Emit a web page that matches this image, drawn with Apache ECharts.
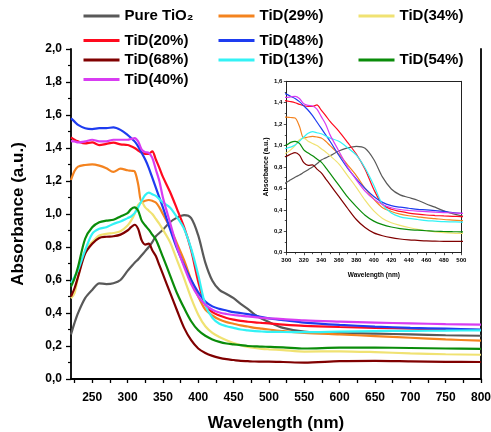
<!DOCTYPE html>
<html>
<head>
<meta charset="utf-8">
<script src="https://cdn.jsdelivr.net/npm/echarts@6/dist/echarts.min.js"></script>
<style>
html,body{margin:0;padding:0;background:#fff;}
#chart{width:491px;height:432px;}
</style>
</head>
<body>
<div id="chart"></div>
<script>
// Wavelength (nm) sample points shared by all spectra
const wavelength = [220,225,230,240,250,260,270,280,290,300,305,310,315,320,325,330,335,340,345,350,360,370,380,390,400,410,420,430,440,450,460,470,480,490,500,520,550,600,650,700,750,800];

const pureTiO2 = [0.27,0.34,0.40,0.49,0.54,0.58,0.575,0.58,0.60,0.655,0.68,0.705,0.725,0.75,0.775,0.80,0.83,0.865,0.885,0.905,0.95,0.978,0.993,0.975,0.87,0.705,0.595,0.54,0.515,0.49,0.455,0.425,0.39,0.365,0.345,0.31,0.287,0.278,0.275,0.27,0.265,0.262];
const tid29 = [1.206,1.26,1.287,1.297,1.301,1.293,1.277,1.255,1.275,1.265,1.262,1.258,1.18,1.07,1.08,1.085,1.08,1.07,1.04,1.00,0.92,0.82,0.72,0.60,0.50,0.42,0.385,0.36,0.345,0.335,0.325,0.318,0.31,0.305,0.30,0.29,0.28,0.27,0.26,0.25,0.24,0.232];
const tid34 = [0.49,0.52,0.62,0.78,0.83,0.87,0.88,0.885,0.895,0.93,0.96,1.00,1.055,1.07,1.04,1.02,1.00,0.97,0.94,0.905,0.83,0.72,0.61,0.49,0.39,0.32,0.28,0.255,0.235,0.218,0.205,0.195,0.188,0.183,0.18,0.175,0.166,0.168,0.163,0.155,0.15,0.147];
const tid20 = [1.465,1.45,1.44,1.428,1.434,1.418,1.425,1.432,1.422,1.418,1.41,1.40,1.385,1.372,1.365,1.365,1.38,1.33,1.28,1.225,1.135,1.03,0.92,0.78,0.59,0.45,0.405,0.385,0.37,0.36,0.352,0.347,0.343,0.34,0.337,0.33,0.322,0.315,0.31,0.305,0.30,0.297];
const tid48 = [1.58,1.56,1.54,1.52,1.515,1.52,1.52,1.525,1.51,1.48,1.46,1.44,1.41,1.37,1.33,1.28,1.22,1.16,1.10,1.04,0.91,0.79,0.69,0.60,0.525,0.47,0.44,0.425,0.415,0.405,0.40,0.393,0.385,0.375,0.367,0.357,0.342,0.328,0.318,0.31,0.305,0.30];
const tid68 = [0.50,0.55,0.62,0.76,0.82,0.855,0.862,0.865,0.875,0.90,0.92,0.935,0.91,0.84,0.815,0.82,0.78,0.745,0.69,0.635,0.525,0.415,0.31,0.235,0.185,0.158,0.14,0.128,0.12,0.115,0.11,0.108,0.106,0.105,0.105,0.103,0.099,0.108,0.11,0.107,0.104,0.103];
const tid13 = [0.58,0.62,0.66,0.78,0.88,0.91,0.92,0.94,0.955,0.975,0.985,1.005,1.04,1.08,1.115,1.13,1.12,1.11,1.09,1.07,1.04,0.98,0.91,0.79,0.63,0.45,0.37,0.335,0.32,0.31,0.30,0.295,0.29,0.288,0.286,0.285,0.284,0.287,0.29,0.292,0.293,0.295];
const tid54 = [0.56,0.61,0.68,0.85,0.92,0.95,0.96,0.965,0.985,1.005,1.03,1.04,1.02,0.96,0.93,0.905,0.875,0.845,0.795,0.74,0.63,0.52,0.43,0.35,0.295,0.262,0.24,0.225,0.215,0.21,0.205,0.20,0.198,0.196,0.195,0.192,0.185,0.19,0.19,0.188,0.185,0.183];
const tid40 = [1.442,1.44,1.434,1.44,1.45,1.44,1.44,1.45,1.45,1.45,1.455,1.46,1.44,1.39,1.375,1.37,1.34,1.27,1.20,1.10,0.95,0.80,0.68,0.575,0.50,0.45,0.42,0.403,0.394,0.388,0.384,0.379,0.375,0.371,0.368,0.363,0.355,0.348,0.342,0.337,0.333,0.33];

const seriesNames = ['Pure TiO₂','TiD(29%)','TiD(34%)','TiD(20%)','TiD(48%)','TiD(68%)','TiD(13%)','TiD(54%)','TiD(40%)'];
const seriesValues = [pureTiO2,tid29,tid34,tid20,tid48,tid68,tid13,tid54,tid40];
const seriesColors = ['#595959','#F4831F','#F0E272','#FF0A1E','#1E3CF0','#800000','#33F2F5','#0A8C0A','#D83CF2'];

// Main axis tick labels
const mainXLabels = [250,300,350,400,450,500,550,600,650,700,750,800];
const mainXTicks = [225,250,275,300,325,350,375,400,425,450,475,500,525,550,575,600,625,650,675,700,725,750,775,800];

const FONT = 'Liberation Sans, Arial, Helvetica, sans-serif';
const comma = v => v.toFixed(1).replace('.', ',');

const chart = echarts.init(document.getElementById('chart'), null, {renderer:'canvas'});

const series = [];
seriesNames.forEach((name, i) => {
  const pts = wavelength.map((w, k) => [w, seriesValues[i][k]]);
  series.push({
    name, type:'line', xAxisIndex:0, yAxisIndex:0, data:pts,
    symbol:'none', smooth:0.3, lineStyle:{width:2.2, color:seriesColors[i]},
    itemStyle:{color:seriesColors[i]}, silent:true
  });
});
seriesNames.forEach((name, i) => {
  const pts = wavelength.map((w, k) => [w, seriesValues[i][k]]);
  series.push({
    name, type:'line', xAxisIndex:1, yAxisIndex:2, data:pts, clip:true,
    symbol:'none', smooth:0.3, lineStyle:{width:1.2, color:seriesColors[i]},
    itemStyle:{color:seriesColors[i]}, silent:true
  });
});

// legend layout: [column, row]
const legendCols = [82, 217, 357];
const legendRowTops = [8.5, 33, 52.5, 72];
const legendPlace = [[0,0],[1,0],[2,0],[0,1],[1,1],[0,2],[1,2],[2,2],[0,3]];
const legends = seriesNames.map((name, i) => ({
  show:true, type:'plain', orient:'horizontal',
  data:[name], left:legendCols[legendPlace[i][0]], top:legendRowTops[legendPlace[i][1]],
  padding:0, itemWidth:36, itemHeight:15, itemGap:0,
  itemStyle:{opacity:0},
  lineStyle:{width:3},
  textStyle:{fontFamily:FONT, fontWeight:'bold', fontSize:15, color:'#000'},
  selectedMode:false
}));

const axisLineMain = {show:true, onZero:false, lineStyle:{color:'#000', width:1.8}};
const axisLineInset = {show:true, onZero:false, lineStyle:{color:'#222', width:1}};

const option = {
  backgroundColor:'#fff',
  animation:false,
  legend: legends,
  grid:[
    {left:71, right:10, top:49, bottom:53, outerBoundsMode:'none', containLabel:false},
    {left:286.3, right:29.7, top:81.3, bottom:179.3, outerBoundsMode:'none', containLabel:false}
  ],
  xAxis:[
    {type:'value', gridIndex:0, min:220, max:800,
     name:'Wavelength (nm)', nameLocation:'middle', nameGap:36,
     nameTextStyle:{fontFamily:FONT, fontWeight:'bold', fontSize:17, color:'#000'},
     axisLine:axisLineMain, splitLine:{show:false},
     axisTick:{show:true, inside:false, length:4, customValues:mainXTicks, lineStyle:{color:'#000', width:1.3}},
     axisLabel:{customValues:mainXLabels, margin:13, fontFamily:FONT, fontWeight:'bold', fontSize:12, color:'#000'}
    },
    {type:'value', gridIndex:1, min:300, max:500, interval:20,
     name:'Wavelength (nm)', nameLocation:'middle', nameGap:19,
     nameTextStyle:{fontFamily:FONT, fontWeight:'bold', fontSize:6.5, color:'#000'},
     axisLine:axisLineInset, splitLine:{show:false},
     axisTick:{show:true, inside:false, length:2.5, lineStyle:{color:'#222', width:0.8}},
     minorTick:{show:true, splitNumber:2, length:1.5, lineStyle:{color:'#222', width:0.8}},
     axisLabel:{margin:5, fontFamily:FONT, fontWeight:'bold', fontSize:6, color:'#000'}
    },
    {type:'value', gridIndex:1, min:300, max:500, position:'top',
     axisLine:axisLineInset, axisTick:{show:false}, axisLabel:{show:false}, splitLine:{show:false}}
  ],
  yAxis:[
    {type:'value', gridIndex:0, min:0, max:2, interval:0.2,
     name:'Absorbance (a.u.)', nameLocation:'middle', nameGap:44, nameRotate:90,
     nameTextStyle:{fontFamily:FONT, fontWeight:'bold', fontSize:17, color:'#000'},
     axisLine:axisLineMain, splitLine:{show:false},
     axisTick:{show:true, inside:false, length:5, lineStyle:{color:'#000', width:1.3}},
     minorTick:{show:true, splitNumber:2, length:3, lineStyle:{color:'#000', width:1.2}},
     axisLabel:{formatter:comma, margin:9, fontFamily:FONT, fontWeight:'bold', fontSize:12, color:'#000'}
    },
    {type:'value', gridIndex:0, min:0, max:2, position:'right',
     axisLine:axisLineMain, axisTick:{show:false}, axisLabel:{show:false}, splitLine:{show:false}},
    {type:'value', gridIndex:1, min:0, max:1.6, interval:0.2,
     name:'Absorbance (a.u.)', nameLocation:'middle', nameGap:16, nameRotate:90,
     nameTextStyle:{fontFamily:FONT, fontWeight:'bold', fontSize:7, color:'#000'},
     axisLine:axisLineInset, splitLine:{show:false},
     axisTick:{show:true, inside:false, length:2.5, lineStyle:{color:'#222', width:0.8}},
     minorTick:{show:true, splitNumber:2, length:1.5, lineStyle:{color:'#222', width:0.8}},
     axisLabel:{formatter:comma, margin:4, fontFamily:FONT, fontWeight:'bold', fontSize:6, color:'#000'}
    },
    {type:'value', gridIndex:1, min:0, max:1.6, position:'right',
     axisLine:axisLineInset, axisTick:{show:false}, axisLabel:{show:false}, splitLine:{show:false}}
  ],
  series
};
chart.setOption(option);
</script>
</body>
</html>
